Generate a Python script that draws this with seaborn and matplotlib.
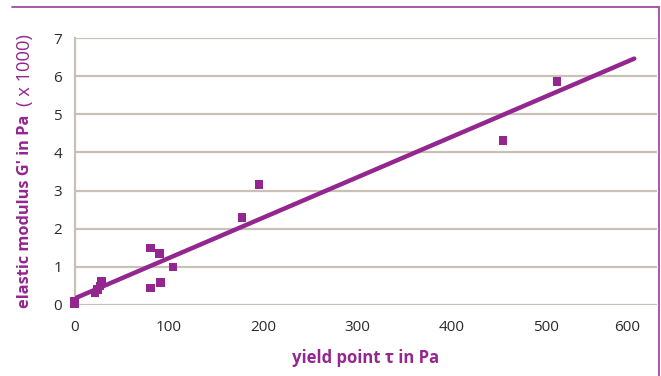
import numpy as np
import pandas as pd
import matplotlib
matplotlib.use("Agg")
import matplotlib.pyplot as plt
from matplotlib.lines import Line2D
import matplotlib.transforms as mtransforms
import seaborn as sns

# data
yield_point = [0, 0, 21.7, 24.2, 27, 28.8, 80.8, 90.4, 104.5, 80.8, 91.4, 177.6, 195.7, 454.4, 511.7]
modulus_k = [0.03, 0.09, 0.31, 0.41, 0.50, 0.61, 1.50, 1.35, 1.00, 0.45, 0.59, 2.29, 3.16, 4.31, 5.86]
trend_x = [0, 593.6]
trend_y = [0.17, 6.46]
x_ticks = [0, 100, 200, 300, 400, 500, 600]
y_ticks = [0, 1, 2, 3, 4, 5, 6, 7]

PURPLE = "#93268f"
GRID = "#c9c1b8"
TXT = "#2b2b2b"

sns.set_theme(style="white")
plt.rcParams["font.family"] = ["Open Sans", "DejaVu Sans"]

W, H = 661, 376
fig = plt.figure(figsize=(W / 100, H / 100), dpi=100)
ax = fig.add_axes([74.5 / W, (H - 305) / H, (657 - 74.5) / W, (305 - 38) / H])

df = pd.DataFrame({"x": yield_point, "y": modulus_k})
tr = pd.DataFrame({"x": trend_x, "y": trend_y})

sns.lineplot(data=tr, x="x", y="y", ax=ax, color=PURPLE, lw=3.2, zorder=3)
sns.scatterplot(data=df, x="x", y="y", ax=ax, marker="s", s=38, color=PURPLE,
                edgecolor="none", linewidth=0, zorder=4, clip_on=False)

ax.set_xlim(0, (657 - 74.5) / 0.943)
ax.set_ylim(0, 7)
ax.set_xticks(x_ticks)
ax.set_yticks(y_ticks)
ax.set_xticklabels([str(v) for v in x_ticks], fontsize=11, color=TXT)
ax.set_yticklabels([str(v) for v in y_ticks], fontsize=11, color=TXT)
ax.tick_params(axis="both", length=0)
ax.tick_params(axis="x", pad=11)
ax.tick_params(axis="y", pad=9)
ax.yaxis.grid(True, color=GRID, lw=1.6)
ax.xaxis.grid(False)
for s in ["top", "right", "bottom"]:
    ax.spines[s].set_visible(False)
ax.spines["left"].set_color(GRID)
ax.spines["left"].set_linewidth(1.6)
ax.set_xlabel("")
ax.set_ylabel("")

# last x tick label is pulled inward (as in the reference)
last = ax.get_xticklabels()[-1]
last.set_transform(last.get_transform() +
                   mtransforms.ScaledTranslation(-13 / 100, 0, fig.dpi_scale_trans))

# axis titles
fig.text(366 / W, 1 - 358 / H, "yield point τ in Pa", ha="center", va="center",
         color=PURPLE, fontsize=12, fontweight="bold")
fig.text(25 / W, 1 - 308 / H, "elastic modulus G' in Pa", rotation=90,
         rotation_mode="anchor", ha="left", va="center", color=PURPLE,
         fontsize=11.8, fontweight="bold")
fig.text(25 / W, 1 - 34 / H, "( x 1000)", rotation=90,
         rotation_mode="anchor", ha="right", va="center", color=PURPLE,
         fontsize=13.2)

# frame lines (top and right)
fig.add_artist(Line2D([12 / W, 659 / W], [1 - 7 / H, 1 - 7 / H], color="#a24d9f", lw=1.3))
fig.add_artist(Line2D([659 / W, 659 / W], [1 - 7 / H, 0], color="#a24d9f", lw=1.3))

fig.savefig("out.png", dpi=100)
